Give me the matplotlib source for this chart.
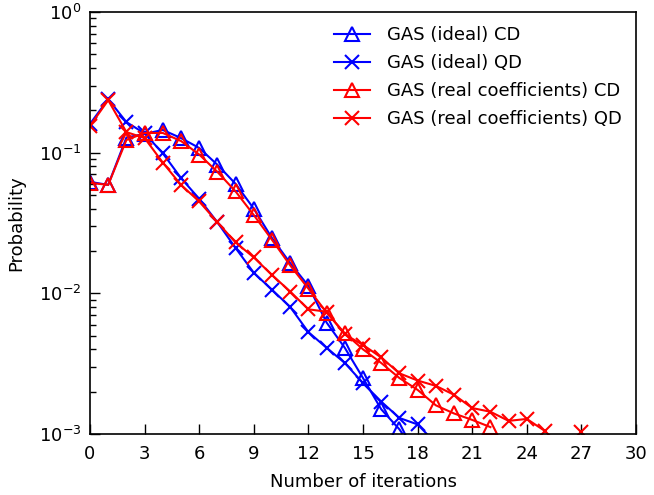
import numpy as np
import matplotlib
matplotlib.use("Agg")
import matplotlib.pyplot as plt

# iterations and probabilities for the four runs
iters_ideal_cd = [0, 1, 2, 3, 4, 5, 6, 7, 8, 9, 10, 11, 12, 13, 14, 15, 16, 17, 18]
prob_ideal_cd = [0.062, 0.059, 0.128, 0.136, 0.145, 0.127, 0.108, 0.082, 0.060, 0.040,
                 0.0247, 0.0164, 0.0113, 0.0062, 0.0041, 0.0025, 0.0015, 0.00108, 0.0007]

iters_ideal_qd = [0, 1, 2, 3, 4, 5, 6, 7, 8, 9, 10, 11, 12, 13, 14, 15, 16, 17, 18, 19]
prob_ideal_qd = [0.160, 0.240, 0.165, 0.137, 0.099, 0.066, 0.047, 0.032, 0.021, 0.014,
                 0.0106, 0.0080, 0.0053, 0.0041, 0.0032, 0.0023, 0.0017, 0.0013, 0.00117, 0.00086]

iters_real_cd = [0, 1, 2, 3, 4, 5, 6, 7, 8, 9, 10, 11, 12, 13, 14, 15, 16, 17, 18, 19, 20, 21, 22]
prob_real_cd = [0.061, 0.059, 0.123, 0.138, 0.138, 0.121, 0.097, 0.073, 0.053, 0.036,
                0.024, 0.0158, 0.0108, 0.0073, 0.0052, 0.0040, 0.0032, 0.0025, 0.00206,
                0.0016, 0.00140, 0.00126, 0.00112]

# no hits at 26 iterations, so that point is left out of the line
iters_real_qd = [0, 1, 2, 3, 4, 5, 6, 7, 8, 9, 10, 11, 12, 13, 14, 15, 16, 17, 18, 19,
                 20, 21, 22, 23, 24, 25, 26, 27]
prob_real_qd = [0.155, 0.236, 0.140, 0.127, 0.085, 0.059, 0.045, 0.032, 0.023, 0.018,
                0.0135, 0.0103, 0.0077, 0.0074, 0.0051, 0.0043, 0.0035, 0.0027, 0.0024,
                0.0022, 0.0019, 0.00153, 0.00144, 0.00124, 0.00128, 0.00105, np.nan, 0.00104]

fig = plt.figure(figsize=(6.54, 4.95), dpi=100)
ax = fig.add_axes([0.1376, 0.1232, 0.8349, 0.8526])

style = dict(linewidth=1.5, markersize=10, markeredgewidth=1.5)
ax.plot(iters_ideal_cd, prob_ideal_cd, color="blue", marker="^", fillstyle="none",
        label="GAS (ideal) CD", **style)
ax.plot(iters_ideal_qd, prob_ideal_qd, color="blue", marker="x",
        label="GAS (ideal) QD", **style)
ax.plot(iters_real_cd, prob_real_cd, color="red", marker="^", fillstyle="none",
        label="GAS (real coefficients) CD", **style)
ax.plot(iters_real_qd, prob_real_qd, color="red", marker="x",
        label="GAS (real coefficients) QD", **style)

ax.set_yscale("log")
ax.set_xlim(0, 30)
ax.set_ylim(1e-3, 1)
ax.set_xticks(range(0, 31, 3))
ax.tick_params(which="both", direction="in", top=False, right=False, labelsize=13)
ax.tick_params(which="major", length=7, width=1)
ax.tick_params(which="minor", length=4, width=1)
ax.tick_params(axis="x", pad=8)
ax.tick_params(axis="y", pad=6)
for sp in ax.spines.values():
    sp.set_linewidth(1.2)

ax.set_xlabel("Number of iterations", fontsize=13, labelpad=7)
ax.set_ylabel("Probability", fontsize=13, labelpad=10)

ax.legend(loc="upper right", frameon=False, fontsize=13, handlelength=2.0,
          borderaxespad=0.4, labelspacing=0.55, handletextpad=0.9)

fig.savefig("out.png", dpi=100)
